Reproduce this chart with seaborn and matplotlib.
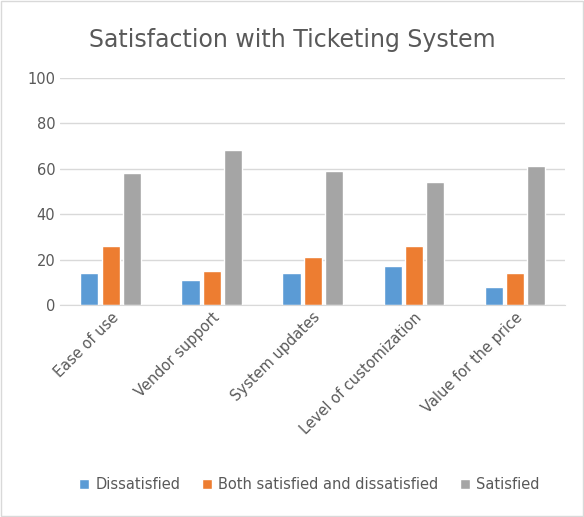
import matplotlib
matplotlib.use("Agg")
import matplotlib.pyplot as plt
import seaborn as sns
import pandas as pd

categories = ["Ease of use", "Vendor support", "System updates",
              "Level of customization", "Value for the price"]
dissatisfied = [14, 11, 14, 17, 8]
both = [26, 15, 21, 26, 14]
satisfied = [58, 68, 59, 54, 61]
series = ["Dissatisfied", "Both satisfied and dissatisfied", "Satisfied"]
colors = ["#5B9BD5", "#ED7D31", "#A5A5A5"]

df = pd.DataFrame({"category": categories * 3,
                   "value": dissatisfied + both + satisfied,
                   "series": [s for s in series for _ in categories]})

sns.set_style("white")
plt.rcParams['font.family'] = ['DejaVu Sans']
fig = plt.figure(figsize=(5.84, 5.17), dpi=100)
ax = fig.add_axes([0.103, 0.41, 0.865, 0.44])
sns.barplot(data=df, x="category", y="value", hue="series", palette=colors,
            saturation=1, width=0.63, gap=0.15, ax=ax, legend=True)
ax.set_ylim(0, 100)
ax.set_yticks(range(0, 101, 20))
ax.yaxis.grid(True, color="#D9D9D9", linewidth=1)
ax.set_axisbelow(True)
for s in ["top", "right", "left"]:
    ax.spines[s].set_visible(False)
ax.spines["bottom"].set_color("#D9D9D9")
ax.tick_params(axis="both", length=0, labelsize=10.5, colors="#595959")
ax.set_xticks(range(len(categories)))
ax.set_xticklabels(categories, rotation=45, ha="right", rotation_mode="anchor")
ax.set_xlabel("")
ax.set_ylabel("")
fig.suptitle("Satisfaction with Ticketing System", y=0.945, fontsize=17, color="#595959")
handles, labels = ax.get_legend_handles_labels()
ax.get_legend().remove()
fig.legend(handles, labels, loc="center", bbox_to_anchor=(0.53, 0.062), ncol=3,
           frameon=False, fontsize=10.5, labelcolor="#595959", handlelength=0.7,
           handleheight=0.7, columnspacing=1.5, handletextpad=0.4)
fig.patches.append(plt.Rectangle((0.001, 0.001), 0.997, 0.997, transform=fig.transFigure,
                                 fill=False, edgecolor="#D9D9D9", linewidth=1))
fig.savefig("out.png", dpi=100)
